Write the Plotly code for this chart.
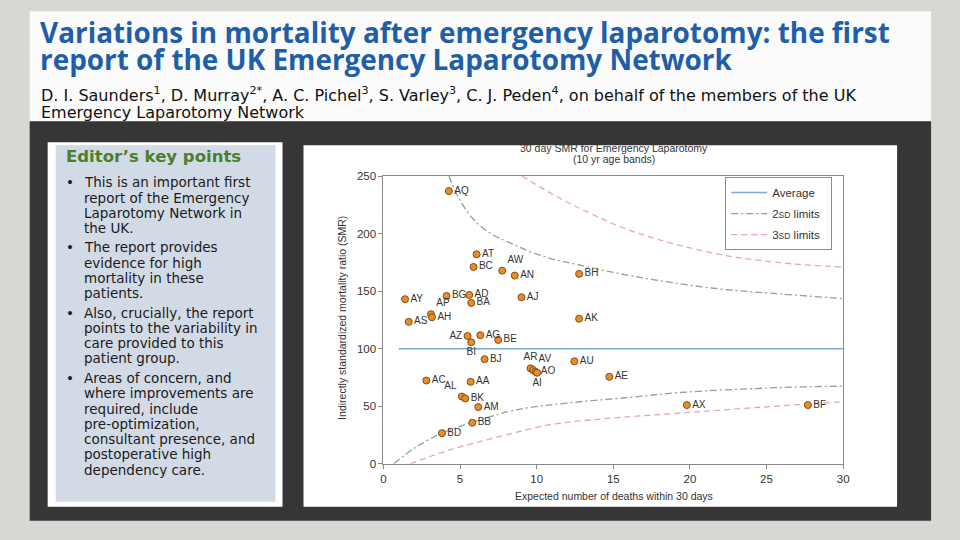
import plotly.graph_objects as go

W, H = 960, 540
# the photographed page comes out slightly scaled; positions below are target picture pixels
SX, OX = 0.9913, 2.3
SY, OY = 0.979, 5.7

def px(x):
    return ((x - OX) / SX) / W

def py(y):
    return 1 - ((y - OY) / SY) / H

# ---------------- data ----------------
hospitals = ["AQ", "AT", "BC", "AW", "AN", "BH", "AY", "BG", "AD", "BA", "AJ", "AP", "AH", "AS",
             "AK", "AZ", "BI", "AG", "BE", "BJ", "AR", "AV", "AO", "AI", "AU", "AC", "AA", "AL",
             "BK", "AM", "BB", "BD", "AE", "AX", "BF"]
expected_deaths = [4.27, 6.08, 5.88, 7.75, 8.57, 12.77, 1.41, 4.12, 5.6, 5.73, 9.01, 3.1, 3.17, 1.65,
                   12.77, 5.49, 5.73, 6.32, 7.49, 6.6, 9.6, 9.77, 9.92, 10.03, 12.46, 2.8, 5.69, 5.12,
                   5.34, 6.19, 5.8, 3.82, 14.74, 19.8, 27.7]
smr_values = [237, 182, 171, 167.8, 163.5, 165, 143, 145.8, 146.7, 139.8, 144.7, 130, 127.3, 123.3,
              126, 111, 105.6, 111.7, 107.6, 90.9, 82.9, 81.4, 79.9, 79.1, 89, 72.3, 71.2, 58.4,
              56.7, 49.2, 35.6, 26.6, 75.5, 51, 51]
label_positions = ["middle right"] * len(hospitals)
for name, pos in {"AW": "top right", "AP": "top right", "AZ": "middle left", "BI": "bottom center",
                  "AR": "top center", "AV": "top right", "AI": "bottom center", "AL": "top left"}.items():
    label_positions[hospitals.index(name)] = pos

average_x = [1, 30]
average_y = [100, 100]

upper2_x = [4.27, 5.0, 5.9, 7.0, 8.08, 10.25, 12.85, 16.3, 21.54, 25.88, 30.0]
upper2_y = [250, 229, 212, 200, 193, 181, 172.5, 163, 152.5, 147.6, 143.5]
lower2_x = [0.67, 2.19, 3.82, 5.77, 8.7, 11.96, 16.3, 19.37, 25.88, 30.0]
lower2_y = [0, 15, 26.6, 35.9, 46.9, 52.7, 57.9, 61.9, 66.2, 67.4]
upper3_x = [9.05, 11.33, 13.5, 16.33, 21.54, 25.88, 30.0]
upper3_y = [250, 232, 217.6, 201.6, 183, 174.7, 171]
lower3_x = [1.76, 4.36, 7.62, 10.88, 14.16, 19.37, 25.88, 30.0]
lower3_y = [0, 12.2, 23.7, 33.9, 38.8, 44, 50.3, 54]

x_ticks = [0, 5, 10, 15, 20, 25, 30]
y_ticks = [0, 50, 100, 150, 200, 250]

slide_title = ["Variations in mortality after emergency laparotomy: the first",
               "report of the UK Emergency Laparotomy Network"]
authors = ["D. I. Saunders<sup>1</sup>, D. Murray<sup>2*</sup>, A. C. Pichel<sup>3</sup>, S. Varley<sup>3</sup>, "
           "C. J. Peden<sup>4</sup>, on behalf of the members of the UK",
           "Emergency Laparotomy Network"]
key_points_title = "Editor\u2019s key points"
key_points = [
    ["This is an important first", "report of the Emergency", "Laparotomy Network in", "the UK."],
    ["The report provides", "evidence for high", "mortality in these", "patients."],
    ["Also, crucially, the report", "points to the variability in", "care provided to this", "patient group."],
    ["Areas of concern, and", "where improvements are", "required, include", "pre-optimization,",
     "consultant presence, and", "postoperative high", "dependency care."],
]
chart_title = ["30 day SMR for Emergency Laparotomy", "(10 yr age bands)"]
x_title = "Expected number of deaths within 30 days"
y_title = "Indirectly standardized mortality ratio (SMR)"
legend_names = ["Average", "2<span style='font-size:8.5px'>SD</span> limits",
                "3<span style='font-size:8.5px'>SD</span> limits"]

# ---------------- figure ----------------
fig = go.Figure()

avg_col = "#7da6dc"
sd2_col = "#8fa58c"
sd3_col = "#e7a3c4"
chart_font = "Liberation Sans, Arial, sans-serif"
pad = "\u00a0\u00a0"
slide_bg = "#d7d7d4"

fig.add_trace(go.Scatter(x=average_x, y=average_y, mode="lines", name=legend_names[0] + pad,
                         line=dict(color=avg_col, width=1.5), legendgroup="avg"))
fig.add_trace(go.Scatter(x=upper2_x, y=upper2_y, mode="lines", line_shape="spline",
                         name=legend_names[1] + pad,
                         line=dict(color=sd2_col, width=1.3, dash="7px,3px,2px,3px"), legendgroup="sd2"))
fig.add_trace(go.Scatter(x=lower2_x, y=lower2_y, mode="lines", line_shape="spline", showlegend=False,
                         line=dict(color=sd2_col, width=1.3, dash="7px,3px,2px,3px"), legendgroup="sd2"))
fig.add_trace(go.Scatter(x=upper3_x, y=upper3_y, mode="lines", line_shape="spline",
                         name=legend_names[2] + pad,
                         line=dict(color=sd3_col, width=1.3, dash="6px,4px"), legendgroup="sd3"))
fig.add_trace(go.Scatter(x=lower3_x, y=lower3_y, mode="lines", line_shape="spline", showlegend=False,
                         line=dict(color=sd3_col, width=1.3, dash="6px,4px"), legendgroup="sd3"))
fig.add_trace(go.Scatter(x=expected_deaths, y=smr_values, mode="markers+text", text=hospitals,
                         textposition=label_positions, showlegend=False,
                         textfont=dict(family=chart_font, size=10, color="#333333"),
                         marker=dict(size=7, color="#e48f2c", line=dict(color="#8a4a12", width=1))))

def rect(x0, y0, x1, y1, color):
    return dict(type="rect", xref="paper", yref="paper", x0=px(x0), x1=px(x1), y0=py(y1), y1=py(y0),
                fillcolor=color, line=dict(width=0), layer="below")

shapes = [
    rect(29, 11, 931, 121, "#fbfbfb"),
    rect(29, 121, 931, 521, "#363636"),
    rect(47, 142, 282, 507, "#ffffff"),
    rect(55, 145, 275, 502, "#d2dae6"),
    rect(303, 145, 897, 507, "#ffffff"),
]

ann = []
for i, line in enumerate(slide_title):
    ann.append(dict(text="<b>" + line + "</b>", x=px(37), y=py(31.5 + 27.5 * i), xref="paper", yref="paper",
                    xanchor="left", yanchor="middle", showarrow=False,
                    font=dict(family="Open Sans, Noto Sans, sans-serif", size=27.9, color="#1f5ea8")))
author_y = [94.5, 112.5]
for i, line in enumerate(authors):
    ann.append(dict(text=line, x=px(38), y=py(author_y[i]), xref="paper", yref="paper",
                    xanchor="left", yanchor="middle", showarrow=False,
                    font=dict(family="DejaVu Sans, sans-serif", size=16, color="#111111")))

ann.append(dict(text="<b>" + key_points_title + "</b>", x=px(63), y=py(156), xref="paper", yref="paper",
                xanchor="left", yanchor="middle", showarrow=False,
                font=dict(family="DejaVu Sans, sans-serif", size=16.5, color="#4b7f2c")))
bullet_starts = [182.3, 247.3, 312.7, 378.3]
for b, lines in enumerate(key_points):
    y0 = bullet_starts[b]
    ann.append(dict(text="\u2022", x=px(63), y=py(y0), xref="paper", yref="paper",
                    xanchor="left", yanchor="middle", showarrow=False,
                    font=dict(family="DejaVu Sans, sans-serif", size=13.5, color="#1a1a1a")))
    for j, line in enumerate(lines):
        ann.append(dict(text=line, x=px(81.5), y=py(y0 + 15.25 * j), xref="paper", yref="paper",
                        xanchor="left", yanchor="middle", showarrow=False,
                        font=dict(family="DejaVu Sans, sans-serif", size=13.5, color="#1a1a1a")))

for i, line in enumerate(chart_title):
    ann.append(dict(text=line, x=px(614), y=py(148 + 11 * i), xref="paper", yref="paper",
                    xanchor="center", yanchor="middle", showarrow=False,
                    font=dict(family=chart_font, size=10.5, color="#333333")))
ann.append(dict(text=x_title, x=px(613.5), y=py(496.5), xref="paper", yref="paper",
                xanchor="center", yanchor="middle", showarrow=False,
                font=dict(family=chart_font, size=10.5, color="#333333")))
ann.append(dict(text=y_title, x=px(341.5), y=py(318), xref="paper", yref="paper", textangle=-90,
                xanchor="center", yanchor="middle", showarrow=False,
                font=dict(family=chart_font, size=10.5, color="#333333")))

axis_common = dict(showgrid=False, zeroline=False, showline=True, linecolor="#8a8a8a", linewidth=1,
                   mirror=True, ticks="outside", ticklen=4, tickcolor="#8a8a8a",
                   tickfont=dict(family=chart_font, size=11.5, color="#333333"))

fig.update_layout(
    width=W, height=H, margin=dict(l=0, r=0, t=0, b=0),
    paper_bgcolor=slide_bg, plot_bgcolor="#ffffff",
    xaxis=dict(range=[0, 30], domain=[px(383), px(843)], tickvals=x_ticks, **axis_common),
    yaxis=dict(range=[0, 250], domain=[py(464), py(176)], tickvals=y_ticks, **axis_common),
    shapes=shapes, annotations=ann,
    legend=dict(x=px(725), y=py(177), xanchor="left", yanchor="top", bgcolor="#ffffff",
                bordercolor="#8a8a8a", borderwidth=1, tracegroupgap=2, itemwidth=36,
                font=dict(family=chart_font, size=11.5, color="#333333")),
    showlegend=True,
)

fig.write_html("out.html", config={"displayModeBar": False},
               post_script="document.body.style.margin='0';document.body.style.overflow='hidden';"
                           "document.body.style.background='" + slide_bg + "';"
                           "document.documentElement.style.background='" + slide_bg + "';")
